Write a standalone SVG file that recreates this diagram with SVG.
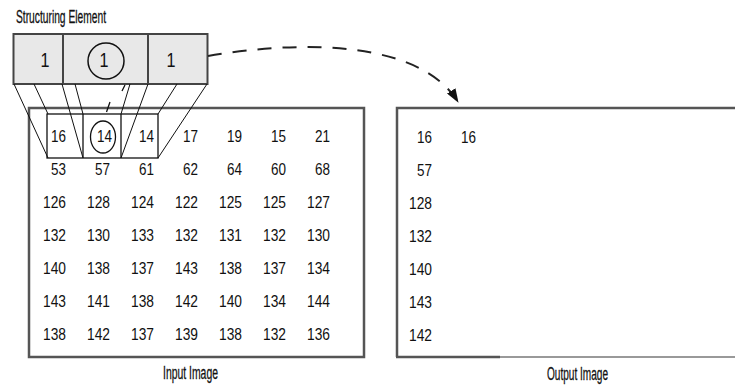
<svg xmlns="http://www.w3.org/2000/svg" width="735" height="387" viewBox="0 0 735 387">
<style>
.frame{fill:none;stroke:#555;stroke-width:2.5}
.cell{fill:#e8e8e8;stroke:#444;stroke-width:2}
.win{fill:none;stroke:#111;stroke-width:1.3}
.ln{stroke:#111;stroke-width:1;fill:none}
.num{font-family:"Liberation Sans",Arial,sans-serif;font-size:17px;fill:#111;text-anchor:end}
.lbl{font-family:"Liberation Sans",Arial,sans-serif;font-size:18px;fill:#111;stroke:#111;stroke-width:0.3}
.se{font-family:"Liberation Sans",Arial,sans-serif;font-size:21px;fill:#111;text-anchor:middle}
</style>
<defs>
<marker id="ah" viewBox="0 0 14 10" refX="13" refY="5" markerWidth="14" markerHeight="10" markerUnits="userSpaceOnUse" orient="auto">
<path d="M0,0 L14,5 L0,10 z" fill="#111"/>
</marker>
</defs>
<rect width="735" height="387" fill="#fff"/>

<g id="label-se"><text class="lbl" x="16" y="23" textLength="90" lengthAdjust="spacingAndGlyphs">Structuring Element</text></g>

<g id="structuring-element">
<rect class="cell" x="13.5" y="34" width="194" height="50"/>
<line x1="63" y1="34" x2="63" y2="84" stroke="#444" stroke-width="2"/>
<line x1="148" y1="34" x2="148" y2="84" stroke="#444" stroke-width="2"/>
<text class="se" x="45" y="67" textLength="9" lengthAdjust="spacingAndGlyphs">1</text>
<text class="se" x="104" y="67" textLength="9" lengthAdjust="spacingAndGlyphs">1</text>
<text class="se" x="171" y="67" textLength="9" lengthAdjust="spacingAndGlyphs">1</text>
<ellipse cx="106" cy="61" rx="18" ry="18" fill="none" stroke="#111" stroke-width="1.5"/>
</g>

<g id="input-image">
<rect class="frame" x="29" y="108" width="335" height="249"/>
<g id="window">
<rect x="47" y="114" width="111" height="44" fill="#fff" stroke="#111" stroke-width="1.3"/>
<line class="win" x1="83" y1="114" x2="83" y2="158"/>
<line class="win" x1="121" y1="114" x2="121" y2="158"/>
<ellipse cx="103" cy="137" rx="12.5" ry="16" fill="none" stroke="#111" stroke-width="1.3"/>
</g>
<g id="input-values">
<text class="num" x="66" y="142" textLength="15" lengthAdjust="spacingAndGlyphs">16</text>
<text class="num" x="112" y="142" textLength="15" lengthAdjust="spacingAndGlyphs">14</text>
<text class="num" x="154" y="142" textLength="15" lengthAdjust="spacingAndGlyphs">14</text>
<text class="num" x="198" y="142" textLength="15" lengthAdjust="spacingAndGlyphs">17</text>
<text class="num" x="242" y="142" textLength="15" lengthAdjust="spacingAndGlyphs">19</text>
<text class="num" x="286" y="142" textLength="15" lengthAdjust="spacingAndGlyphs">15</text>
<text class="num" x="330" y="142" textLength="15" lengthAdjust="spacingAndGlyphs">21</text>

<text class="num" x="66" y="175" textLength="15" lengthAdjust="spacingAndGlyphs">53</text>
<text class="num" x="110" y="175" textLength="15" lengthAdjust="spacingAndGlyphs">57</text>
<text class="num" x="154" y="175" textLength="15" lengthAdjust="spacingAndGlyphs">61</text>
<text class="num" x="198" y="175" textLength="15" lengthAdjust="spacingAndGlyphs">62</text>
<text class="num" x="242" y="175" textLength="15" lengthAdjust="spacingAndGlyphs">64</text>
<text class="num" x="286" y="175" textLength="15" lengthAdjust="spacingAndGlyphs">60</text>
<text class="num" x="330" y="175" textLength="15" lengthAdjust="spacingAndGlyphs">68</text>

<text class="num" x="66" y="208" textLength="23" lengthAdjust="spacingAndGlyphs">126</text>
<text class="num" x="110" y="208" textLength="23" lengthAdjust="spacingAndGlyphs">128</text>
<text class="num" x="154" y="208" textLength="23" lengthAdjust="spacingAndGlyphs">124</text>
<text class="num" x="198" y="208" textLength="23" lengthAdjust="spacingAndGlyphs">122</text>
<text class="num" x="242" y="208" textLength="23" lengthAdjust="spacingAndGlyphs">125</text>
<text class="num" x="286" y="208" textLength="23" lengthAdjust="spacingAndGlyphs">125</text>
<text class="num" x="330" y="208" textLength="23" lengthAdjust="spacingAndGlyphs">127</text>

<text class="num" x="66" y="241" textLength="23" lengthAdjust="spacingAndGlyphs">132</text>
<text class="num" x="110" y="241" textLength="23" lengthAdjust="spacingAndGlyphs">130</text>
<text class="num" x="154" y="241" textLength="23" lengthAdjust="spacingAndGlyphs">133</text>
<text class="num" x="198" y="241" textLength="23" lengthAdjust="spacingAndGlyphs">132</text>
<text class="num" x="242" y="241" textLength="23" lengthAdjust="spacingAndGlyphs">131</text>
<text class="num" x="286" y="241" textLength="23" lengthAdjust="spacingAndGlyphs">132</text>
<text class="num" x="330" y="241" textLength="23" lengthAdjust="spacingAndGlyphs">130</text>

<text class="num" x="66" y="274" textLength="23" lengthAdjust="spacingAndGlyphs">140</text>
<text class="num" x="110" y="274" textLength="23" lengthAdjust="spacingAndGlyphs">138</text>
<text class="num" x="154" y="274" textLength="23" lengthAdjust="spacingAndGlyphs">137</text>
<text class="num" x="198" y="274" textLength="23" lengthAdjust="spacingAndGlyphs">143</text>
<text class="num" x="242" y="274" textLength="23" lengthAdjust="spacingAndGlyphs">138</text>
<text class="num" x="286" y="274" textLength="23" lengthAdjust="spacingAndGlyphs">137</text>
<text class="num" x="330" y="274" textLength="23" lengthAdjust="spacingAndGlyphs">134</text>

<text class="num" x="66" y="307" textLength="23" lengthAdjust="spacingAndGlyphs">143</text>
<text class="num" x="110" y="307" textLength="23" lengthAdjust="spacingAndGlyphs">141</text>
<text class="num" x="154" y="307" textLength="23" lengthAdjust="spacingAndGlyphs">138</text>
<text class="num" x="198" y="307" textLength="23" lengthAdjust="spacingAndGlyphs">142</text>
<text class="num" x="242" y="307" textLength="23" lengthAdjust="spacingAndGlyphs">140</text>
<text class="num" x="286" y="307" textLength="23" lengthAdjust="spacingAndGlyphs">134</text>
<text class="num" x="330" y="307" textLength="23" lengthAdjust="spacingAndGlyphs">144</text>

<text class="num" x="66" y="340" textLength="23" lengthAdjust="spacingAndGlyphs">138</text>
<text class="num" x="110" y="340" textLength="23" lengthAdjust="spacingAndGlyphs">142</text>
<text class="num" x="154" y="340" textLength="23" lengthAdjust="spacingAndGlyphs">137</text>
<text class="num" x="198" y="340" textLength="23" lengthAdjust="spacingAndGlyphs">139</text>
<text class="num" x="242" y="340" textLength="23" lengthAdjust="spacingAndGlyphs">138</text>
<text class="num" x="286" y="340" textLength="23" lengthAdjust="spacingAndGlyphs">132</text>
<text class="num" x="330" y="340" textLength="23" lengthAdjust="spacingAndGlyphs">136</text>
</g>
<text class="lbl" x="163" y="379" textLength="55" lengthAdjust="spacingAndGlyphs">Input Image</text>
</g>

<g id="output-image">
<path d="M397,357 L397,108 L736,108" fill="none" stroke="#555" stroke-width="2.5"/>
<line x1="396" y1="357" x2="500" y2="357" stroke="#555" stroke-width="2.5"/>
<line x1="500" y1="357" x2="736" y2="357" stroke="#777" stroke-width="1.3"/>
<g id="output-values">
<text class="num" x="432" y="143" textLength="15" lengthAdjust="spacingAndGlyphs">16</text>
<text class="num" x="476" y="143" textLength="15" lengthAdjust="spacingAndGlyphs">16</text>
<text class="num" x="432" y="176" textLength="15" lengthAdjust="spacingAndGlyphs">57</text>
<text class="num" x="432" y="209" textLength="23" lengthAdjust="spacingAndGlyphs">128</text>
<text class="num" x="432" y="242" textLength="23" lengthAdjust="spacingAndGlyphs">132</text>
<text class="num" x="432" y="275" textLength="23" lengthAdjust="spacingAndGlyphs">140</text>
<text class="num" x="432" y="308" textLength="23" lengthAdjust="spacingAndGlyphs">143</text>
<text class="num" x="432" y="341" textLength="23" lengthAdjust="spacingAndGlyphs">142</text>
</g>
<text class="lbl" x="547" y="380" textLength="61" lengthAdjust="spacingAndGlyphs">Output Image</text>
</g>

<g id="connectors">
<line class="ln" x1="14" y1="84" x2="48" y2="158"/>
<line class="ln" x1="34" y1="84" x2="48" y2="114"/>
<line class="ln" x1="62" y1="84" x2="83" y2="158"/>
<line class="ln" x1="75" y1="84" x2="83" y2="114"/>
<line class="ln" x1="130" y1="84" x2="121" y2="114"/>
<line class="ln" x1="148" y1="84" x2="121" y2="158"/>
<line class="ln" x1="177" y1="84" x2="158" y2="114"/>
<line class="ln" x1="207" y1="84" x2="158" y2="158"/>
<path d="M125,85 L122,91 M110,102 L106.5,112" fill="none" stroke="#111" stroke-width="1.3"/>
<path d="M208,56 C300,40 420,40 458,102" fill="none" stroke="#222" stroke-width="2" stroke-dasharray="14 11" marker-end="url(#ah)"/>
</g>
</svg>
